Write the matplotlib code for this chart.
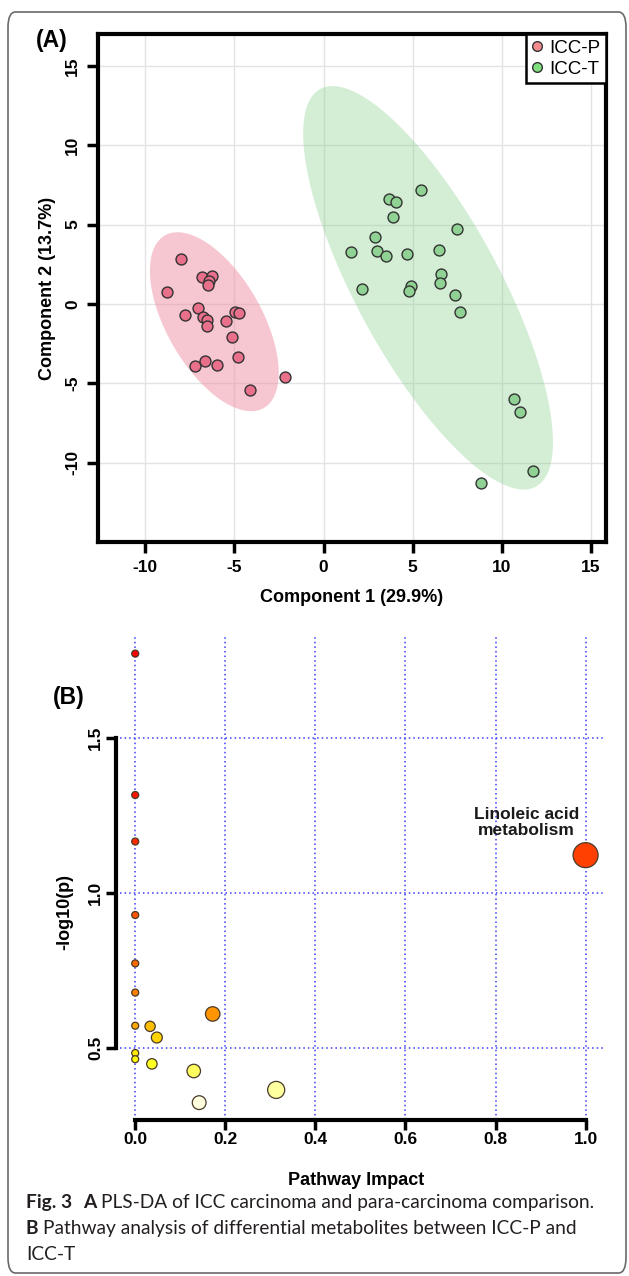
import colorsys
import numpy as np
import matplotlib
matplotlib.use("Agg")
import matplotlib.pyplot as plt
from matplotlib.lines import Line2D
from matplotlib.patches import FancyBboxPatch

plt.rcParams['font.family'] = ['Liberation Sans', 'DejaVu Sans']
plt.rcParams['axes.unicode_minus'] = False

# ---- (A) PLS-DA scores ----
p_x = [-8.00, -8.79, -6.83, -6.25, -6.43, -6.47, -7.04, -7.78, -6.77, -6.52, -6.56,
       -5.46, -4.97, -4.74, -5.15, -6.65, -7.22, -5.98, -4.79, -2.14, -4.11]
p_y = [2.81, 0.74, 1.67, 1.73, 1.42, 1.16, -0.23, -0.72, -0.84, -1.01, -1.39,
       -1.10, -0.49, -0.59, -2.09, -3.61, -3.90, -3.82, -3.35, -4.58, -5.44]
t_x = [5.44, 3.69, 4.09, 3.91, 7.51, 2.90, 1.55, 3.01, 3.51, 4.70, 6.45,
       6.56, 6.54, 2.18, 4.92, 4.77, 7.35, 7.67, 10.66, 11.00, 11.74, 8.81]
t_y = [7.19, 6.62, 6.43, 5.45, 4.74, 4.23, 3.28, 3.34, 3.00, 3.17, 3.38,
       1.90, 1.29, 0.93, 1.10, 0.80, 0.53, -0.50, -5.99, -6.79, -10.55, -11.29]
groups = ["ICC-P", "ICC-T"]
ticks_a = [-10, -5, 0, 5, 10, 15]

# ---- (B) pathway analysis ----
impact = [0, 0, 0, 1.0, 0, 0, 0, 0.172, 0, 0.033, 0.048, 0, 0, 0.037, 0.130, 0.313, 0.142]
logp = [1.773, 1.317, 1.167, 1.123, 0.930, 0.774, 0.680, 0.611, 0.573, 0.571,
        0.535, 0.485, 0.465, 0.450, 0.427, 0.366, 0.325]
label_b = "Linoleic acid\nmetabolism"
xticks_b = [0.0, 0.2, 0.4, 0.6, 0.8, 1.0]
yticks_b = [0.5, 1.0, 1.5]

caption = [
    [("Fig. 3", "bold", 0.55), ("A", "bold", 0.25), ("PLS-DA of ICC carcinoma and para-carcinoma comparison.", "normal", 0)],
    [("B", "bold", 0.25), ("Pathway analysis of differential metabolites between ICC-P and", "normal", 0)],
    [("ICC-T", "normal", 0)],
]

W, H = 629, 1276
fig = plt.figure(figsize=(W / 100, H / 100), dpi=100)


def conf_ellipse(x, y, scale=2.4477, n=200):
    x = np.asarray(x); y = np.asarray(y)
    cov = np.cov(x, y)
    vals, vecs = np.linalg.eigh(cov)
    t = np.linspace(0, 2 * np.pi, n)
    circ = np.vstack([np.cos(t), np.sin(t)])
    pts = vecs @ (np.sqrt(vals)[:, None] * circ) * scale
    return pts[0] + x.mean(), pts[1] + y.mean()


def heat_colors(n):
    # same ramp as R's heat.colors()
    j = n // 4
    i = n - j
    cols = []
    for k in range(i):
        h = (1 / 6) * k / (i - 1) if i > 1 else 0
        cols.append(colorsys.hsv_to_rgb(h, 1, 1))
    if j > 0:
        for s in np.linspace(1 - 1 / (2 * j), 1 / (2 * j), j):
            cols.append(colorsys.hsv_to_rgb(1 / 6, s, 1))
    return cols


# panel A
ax = fig.add_axes([98 / W, 1 - 542 / H, 508 / W, 508 / H])
ax.set_xlim(-12.65, 15.84)
ax.set_ylim(-15.0, 17.0)
ax.set_xticks(ticks_a)
ax.set_yticks(ticks_a)
ax.grid(True, color='#e3e3e3', lw=1)
ax.set_axisbelow(True)

ex, ey = conf_ellipse(p_x, p_y)
ax.fill(ex, ey, color='#ee8fa5', alpha=0.5, lw=0, zorder=1)
ex, ey = conf_ellipse(t_x, t_y)
ax.fill(ex, ey, color='#7fcd85', alpha=0.33, lw=0, zorder=1)
ax.scatter(p_x, p_y, s=62, facecolor='#e8708b', edgecolor='#333333', lw=1, zorder=3)
ax.scatter(t_x, t_y, s=62, facecolor='#8fd293', edgecolor='#333333', lw=1, zorder=3)

for sp in ax.spines.values():
    sp.set_linewidth(3)
ax.tick_params(width=2.5, length=8, labelsize=12.5, pad=5)
for lab in ax.get_xticklabels() + ax.get_yticklabels():
    lab.set_fontweight('bold')
for lab in ax.get_yticklabels():
    lab.set_rotation(90)
    lab.set_va('center')
ax.set_xlabel("Component 1 (29.9%)", fontsize=13, fontweight='bold')
ax.set_ylabel("Component 2 (13.7%)", fontsize=13, fontweight='bold')
ax.xaxis.set_label_coords(0.5, -0.092)
ax.yaxis.set_label_coords(-0.083, 0.5)

handles = [Line2D([], [], marker='o', ls='none', markersize=7, markerfacecolor=c,
                  markeredgecolor='#333333', markeredgewidth=1)
           for c in ['#f28a8e', '#7fdf7f']]
leg = ax.legend(handles, groups, loc='upper right', bbox_to_anchor=(1, 1), borderaxespad=0,
                fancybox=False, edgecolor='black', fontsize=13.5, handlelength=0.6,
                handletextpad=0.35, borderpad=0.3, labelspacing=0.2, framealpha=1)
leg.get_frame().set_linewidth(1.8)
leg.set_zorder(5)

fig.text(52 / W, 1 - 40 / H, "(A)", fontsize=16.5, fontweight='bold', ha='center', va='center')

# panel B
bx = fig.add_axes([120 / W, 1 - 1120 / H, 484 / W, 485 / H])
bx.set_xlim(-0.0338, 1.0409)
bx.set_ylim(0.269, 1.833)
bx.set_xticks(xticks_b)
bx.set_yticks(yticks_b)
bx.set_xticklabels([f"{v:.1f}" for v in xticks_b])
bx.set_yticklabels([f"{v:.1f}" for v in yticks_b])
bx.grid(True, color='#3c3cff', lw=1.1, ls=(0, (1, 2)))
bx.set_axisbelow(True)
for s in ['top', 'right']:
    bx.spines[s].set_visible(False)
bx.spines['left'].set_bounds(yticks_b[0], yticks_b[-1])
bx.spines['bottom'].set_bounds(xticks_b[0], xticks_b[-1])
bx.spines['left'].set_linewidth(3)
bx.spines['bottom'].set_linewidth(3)
bx.spines['left'].set_position(('outward', 3))
bx.tick_params(width=2.5, length=7, labelsize=12.5, pad=2)
for lab in bx.get_xticklabels() + bx.get_yticklabels():
    lab.set_fontweight('bold')
for lab in bx.get_yticklabels():
    lab.set_rotation(90)
    lab.set_va('center')

n = len(logp)
order = np.argsort(-np.asarray(logp), kind='stable')
pal = heat_colors(n)
cols = [None] * n
for r, idx in enumerate(order):
    cols[idx] = pal[r]
diam = 7 + 18 * np.sqrt(np.asarray(impact))
sizes = (diam * 0.72) ** 2
draw = np.argsort(-sizes, kind='stable')
bx.scatter(np.asarray(impact)[draw], np.asarray(logp)[draw], s=sizes[draw],
           c=[cols[i] for i in draw], edgecolors='#4a3a2a', linewidths=0.9, zorder=3, clip_on=False)

top = int(np.argmax(impact))
bx.annotate(label_b, (impact[top], logp[top]), xytext=(-59, 33), textcoords='offset pixels',
            ha='center', va='center', fontsize=12.5, fontweight='bold', linespacing=1.1,
            color='#1a1a1a')

bx.set_xlabel("Pathway Impact", fontsize=13, fontweight='bold')
bx.set_ylabel("-log10(p)", fontsize=13, fontweight='bold')
bx.xaxis.set_label_coords((356 - 120) / 484, (1120 - 1172) / 485)
bx.yaxis.set_label_coords((73 - 120) / 484, (1120 - 912) / 485)

fig.text(69 / W, 1 - 697 / H, "(B)", fontsize=16.5, fontweight='bold', ha='center', va='center')

# caption
renderer = fig.canvas.get_renderer()
baselines = [1208, 1234, 1260]
cap_size = 13.8
for line, yb in zip(caption, baselines):
    x = 26 / W
    for txt, wt, gap in line:
        t = fig.text(x, 1 - yb / H, txt, fontsize=cap_size, fontweight=wt, family=['Lato', 'DejaVu Sans'],
                     ha='left', va='baseline', color='#231f20')
        bb = t.get_window_extent(renderer)
        x += (bb.width + gap * cap_size * 100 / 72) / W

# frame around figure + caption
frame = FancyBboxPatch((8 / W, 1 - 1273 / H), (626 - 8) / W, (1273 - 12) / H,
                       boxstyle='round,pad=0,rounding_size=0.012', transform=fig.transFigure,
                       fill=False, ec='#6a6a6a', lw=1.2)
fig.patches.append(frame)

fig.savefig("out.png", dpi=100)
